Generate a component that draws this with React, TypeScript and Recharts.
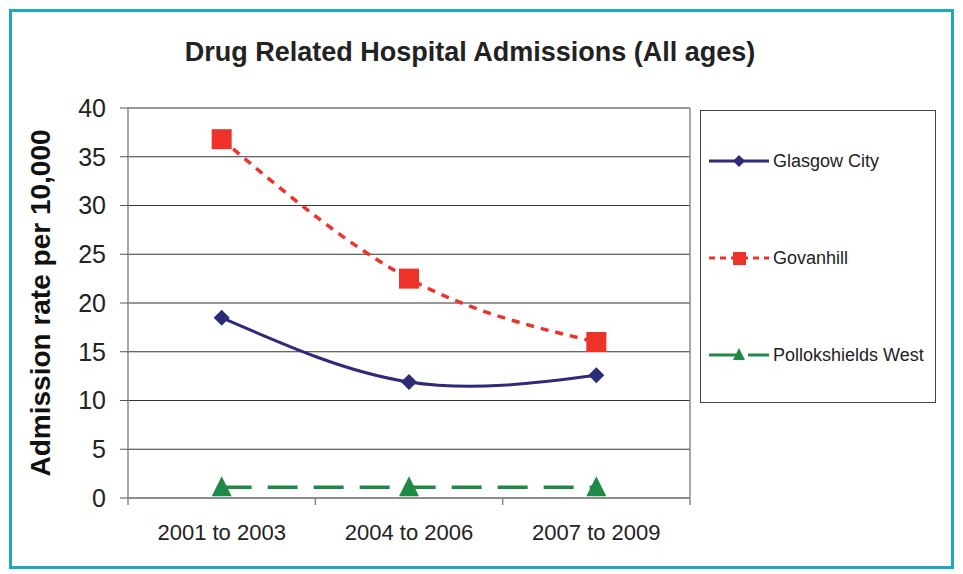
import React from 'react';
import { LineChart, Line, XAxis, YAxis, CartesianGrid, ReferenceLine } from 'recharts';

const periods = ['2001 to 2003', '2004 to 2006', '2007 to 2009'];
const glasgowCity = [18.5, 11.9, 12.6];
const govanhill = [36.8, 22.5, 16.0];
const pollokshieldsWest = [1.1, 1.1, 1.1];
const yTicks = [0, 5, 10, 15, 20, 25, 30, 35, 40];
// band edges (integers) and band centres (halves) of the category axis
const xTicks = [0, 0.5, 1, 1.5, 2, 2.5, 3];

const data = periods.map((period, i) => ({
  idx: i + 0.5,
  period,
  glasgow: glasgowCity[i],
  govanhill: govanhill[i],
  pollokshields: pollokshieldsWest[i],
}));

const FONT = '"Liberation Sans", Arial, sans-serif';
const NAVY = '#2e2b78';
const RED = '#ee3229';
const GREEN = '#1f8a45';
const AXIS = '#8a8a8a';

const Diamond = (props: any) => {
  const { cx, cy } = props;
  if (cx == null || cy == null) return null;
  const r = 8;
  return <path d={`M${cx},${cy - r}L${cx + r},${cy}L${cx},${cy + r}L${cx - r},${cy}Z`} fill={NAVY} />;
};

const Square = (props: any) => {
  const { cx, cy } = props;
  if (cx == null || cy == null) return null;
  const s = 10;
  return <rect x={cx - s} y={cy - s} width={s * 2} height={s * 2} fill={RED} />;
};

const Triangle = (props: any) => {
  const { cx, cy } = props;
  if (cx == null || cy == null) return null;
  return <path d={`M${cx},${cy - 11}L${cx + 10},${cy + 9}L${cx - 10},${cy + 9}Z`} fill={GREEN} />;
};

const PeriodTick = (props: any) => {
  const { x, y, payload } = props;
  const v = payload.value;
  if (Number.isInteger(v)) {
    return <line x1={x} y1={y} x2={x} y2={y + 7} stroke={AXIS} strokeWidth={1.5} />;
  }
  return (
    <text x={x} y={y + 42} textAnchor="middle" fontFamily={FONT} fontSize={22} fill="#222">
      {periods[Math.floor(v)]}
    </text>
  );
};

const legendItems = [
  { label: 'Glasgow City', color: NAVY, dash: undefined, marker: 'diamond' },
  { label: 'Govanhill', color: RED, dash: '6 5', marker: 'square' },
  { label: 'Pollokshields West', color: GREEN, dash: '27 12', marker: 'triangle' },
];

const LegendBox = () => (
  <div
    style={{
      position: 'absolute',
      left: 700,
      top: 110,
      width: 236,
      height: 293,
      border: '1px solid #444',
      boxSizing: 'border-box',
      fontFamily: FONT,
      fontSize: 18,
      color: '#222',
    }}
  >
    {legendItems.map((item, i) => (
      <div
        key={item.label}
        style={{ position: 'absolute', left: 7, top: 39 + i * 97, display: 'flex', alignItems: 'center', height: 22 }}
      >
        <svg width={62} height={20}>
          <line x1={1} y1={10} x2={61} y2={10} stroke={item.color} strokeWidth={3} strokeDasharray={item.dash} />
          {item.marker === 'diamond' && <path d="M31,4L37,10L31,16L25,10Z" fill={item.color} />}
          {item.marker === 'square' && <rect x={25} y={4} width={13} height={13} fill={item.color} />}
          {item.marker === 'triangle' && <path d="M31,3L37,15L25,15Z" fill={item.color} />}
        </svg>
        <span style={{ marginLeft: 3 }}>{item.label}</span>
      </div>
    ))}
  </div>
);

export default function App() {
  return (
    <div style={{ position: 'absolute', left: 0, top: 0, width: 963, height: 574, background: '#fff' }}>
      <div
        style={{
          position: 'absolute',
          left: 9,
          top: 9,
          width: 945,
          height: 560,
          border: '3px solid #19aabf',
          boxSizing: 'border-box',
        }}
      />
      <div
        style={{
          position: 'absolute',
          left: 0,
          top: 37,
          width: 940,
          textAlign: 'center',
          fontFamily: FONT,
          fontWeight: 'bold',
          fontSize: 27,
          color: '#222',
        }}
      >
        Drug Related Hospital Admissions (All ages)
      </div>
      <div style={{ position: 'absolute', left: 0, top: 0 }}>
        <LineChart width={963} height={574} data={data} margin={{ top: 108, right: 273, bottom: 26, left: 0 }}>
          <CartesianGrid vertical={false} stroke="#333" strokeWidth={1.2} />
          <XAxis
            dataKey="idx"
            type="number"
            domain={[0, 3]}
            ticks={xTicks}
            interval={0}
            height={50}
            tickSize={0}
            tickMargin={0}
            tickLine={false}
            axisLine={{ stroke: AXIS, strokeWidth: 1.5 }}
            tick={<PeriodTick />}
          />
          <YAxis
            width={128}
            domain={[0, 40]}
            ticks={yTicks}
            interval={0}
            tickSize={8}
            tickMargin={14}
            axisLine={{ stroke: AXIS, strokeWidth: 1.5 }}
            tickLine={{ stroke: '#555' }}
            tick={{ fontFamily: FONT, fontSize: 25, fill: '#222' }}
            label={{
              value: 'Admission rate per 10,000',
              angle: -90,
              position: 'insideLeft',
              offset: 40,
              style: { textAnchor: 'middle', fontFamily: FONT, fontWeight: 'bold', fontSize: 28, fill: '#111' },
            }}
          />
          <ReferenceLine x={3} stroke={AXIS} strokeWidth={1.5} />
          <Line
            name="Glasgow City"
            dataKey="glasgow"
            type="natural"
            stroke={NAVY}
            strokeWidth={3}
            dot={<Diamond />}
            activeDot={false}
            isAnimationActive={false}
          />
          <Line
            name="Govanhill"
            dataKey="govanhill"
            type="natural"
            stroke={RED}
            strokeWidth={3.5}
            strokeDasharray="8 7"
            dot={<Square />}
            activeDot={false}
            isAnimationActive={false}
          />
          <Line
            name="Pollokshields West"
            dataKey="pollokshields"
            type="linear"
            stroke={GREEN}
            strokeWidth={3.5}
            strokeDasharray="30 16"
            dot={<Triangle />}
            activeDot={false}
            isAnimationActive={false}
          />
        </LineChart>
      </div>
      <LegendBox />
    </div>
  );
}
